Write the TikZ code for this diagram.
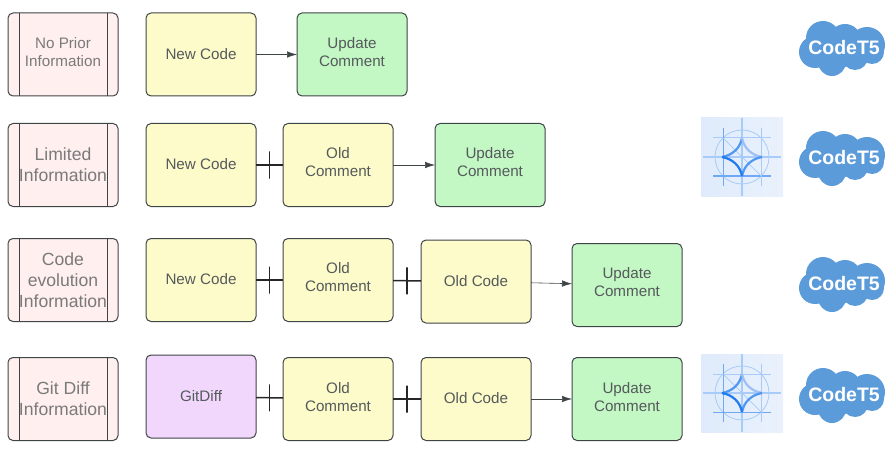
\documentclass[tikz,border=0pt]{standalone}
\usepackage{fontspec}
\setmainfont{Liberation Sans}
\usepackage{xcolor}
\usetikzlibrary{arrows.meta, positioning}

\definecolor{inkline}{HTML}{3F4447}
\definecolor{inktext}{HTML}{555A5C}
\definecolor{labeltext}{HTML}{7A7A7A}
\definecolor{labelfill}{HTML}{FFF0EF}
\definecolor{codefill}{HTML}{FDFBC9}
\definecolor{updatefill}{HTML}{C3F7C4}
\definecolor{difffill}{HTML}{F1D7FC}
\definecolor{cloudblue}{HTML}{5B9BD9}
\definecolor{sparkbacka}{HTML}{DFEBFB}
\definecolor{sparkbackb}{HTML}{EAF1FC}
\definecolor{sparkfaint}{HTML}{A9CBFA}
\definecolor{sparkmid}{HTML}{6FA8F6}
\definecolor{sparklight}{HTML}{9DC0F5}
\definecolor{sparkside}{HTML}{4F97F0}
\definecolor{sparkstrong}{HTML}{1F7BEE}

\begin{document}
\begin{tikzpicture}[
    x=1pt, y=-1pt,
    node distance=27pt,
    box/.style={rectangle, rounded corners=5pt, minimum width=110pt, minimum height=83pt, inner sep=1pt, outer sep=0pt, align=center, draw=inkline, line width=1pt, text=inktext, text depth=6pt, font=\fontsize{15.2}{18}\selectfont},
    codebox/.style={box, fill=codefill},
    updatebox/.style={box, fill=updatefill},
    diffbox/.style={box, fill=difffill},
    oneline/.style={text depth=2pt},
    labelbox/.style={box, fill=labelfill, text=labeltext, path picture={
        \draw[inkline, line width=1pt] ([xshift=11pt]path picture bounding box.north west) -- ([xshift=11pt]path picture bounding box.south west);
        \draw[inkline, line width=1pt] ([xshift=-11pt]path picture bounding box.north east) -- ([xshift=-11pt]path picture bounding box.south east);
    }},
    biglabel/.style={text depth=0pt, font=\fontsize{17.6}{21}\selectfont},
    arrow/.style={-{Latex[length=10pt, width=6.5pt]}, draw=inkline, line width=0.6pt},
    plus/.style={draw=black!85, line width=1.5pt},
    tick/.style={rectangle, draw=black!85, line width=1.5pt, minimum width=0pt, minimum height=27pt, inner sep=0pt, outer sep=0pt},
    cloudtext/.style={text=white, font=\fontsize{19.5}{19.5}\selectfont\bfseries}
]
\useasboundingbox (0,0) rectangle (893,449);

% Nodes
\node[labelbox] (label1) at (63,54.5) {No Prior\\Information};
\node[codebox, oneline] (new1) at (201,54.5) {New Code};
\node[updatebox, right=41pt of new1] (update1) {Update\\Comment};

\node[labelbox, biglabel] (label2) at (63,165) {Limited\\Information};
\node[codebox, oneline] (new2) at (201,165) {New Code};
\node[codebox, right=of new2] (old2) {Old\\Comment};
\node[updatebox, right=42pt of old2] (update2) {Update\\Comment};

\node[labelbox, biglabel] (label3) at (63,280) {Code\\evolution\\Information};
\node[codebox, oneline] (new3) at (201,280) {New Code};
\node[codebox, right=of new3] (old3) {Old\\Comment};
\node[codebox, oneline, right=28pt of old3, yshift=-1.5pt] (oldcode3) {Old Code};
\node[updatebox, right=41pt of oldcode3, yshift=-3.5pt] (update3) {Update\\Comment};

\node[labelbox, biglabel] (label4) at (63,399) {Git Diff\\Information};
\node[diffbox, oneline] (diff4) at (201,396.5) {GitDiff};
\node[codebox, text depth=4pt] (old4) at (338,399) {Old\\Comment};
\node[codebox, oneline, right=28pt of old4] (oldcode4) {Old Code};
\node[updatebox, text depth=4pt, right=41pt of oldcode4] (update4) {Update\\Comment};

% Arrows
\draw[arrow] (new1) -- (update1);
\draw[arrow] (old2) -- (update2);
\draw[arrow] (oldcode3) -- (update3);
\draw[arrow] (oldcode4) -- (update4);

% Plus signs
\draw[plus] (new2) -- (old2) node[midway, tick] (tick2) {};
\draw[plus] (new3) -- (old3) node[midway, tick] (tick3) {};
\draw[plus] (old3) -- (oldcode3) node[midway, tick] (tick3b) {};
\draw[plus] (diff4) -- (old4) node[midway, tick] (tick4) {};
\draw[plus] (old4) -- (oldcode4) node[midway, tick] (tick4b) {};

% Clouds
\foreach \name/\ypos in {one/49, two/159, three/285, four/396} {
    \begin{scope}[shift={(843,\ypos)}]
        \foreach \dx/\dy/\rad in {-20/-11/17, 2/-9/16, 24/-4/18, -28/3/16, -11/13/14, 12/8/13, 29/3/12, 0/0/18}
            \fill[cloudblue] (\dx,\dy) circle (\rad);
        \fill[cloudblue] (-20,-8) rectangle (28,10);
        \node[cloudtext] (text\name) at (1,-1.5) {CodeT5};
    \end{scope}
}

% Sparkle pictures
\foreach \cx/\cy in {742/157, 742/393} {
    \begin{scope}[shift={(\cx,\cy)}]
        \shade[left color=sparkbacka, right color=sparkbackb] (-41,-39) rectangle (41,39);
        \draw[sparkfaint, line width=0.8pt] (-27,0) arc[start angle=180, end angle=540, radius=27];
        \draw[sparkfaint, line width=1.1pt] (-39,0) -- (39,0);
        \draw[sparkfaint, line width=1.1pt] (0,-39) -- (0,39);
        \draw[sparkfaint, line width=1pt] (-29,-19) -- (29,-19);
        \draw[sparkmid, line width=1pt] (-29,19) -- (29,19);
        \draw[sparkmid, line width=1pt] (-19,-29) -- (-19,29);
        \draw[sparkfaint, line width=1pt] (19,-29) -- (19,29);
        \draw[sparkfaint, line width=0.7pt] (-19,-19) -- (19,19);
        \draw[sparkside, line width=2.2pt] (-20,0) .. controls (-9,-2) and (-2,-9) .. (0,-19);
        \draw[sparklight, line width=2.2pt] (0,-19) .. controls (2,-9) and (9,-2) .. (20,0);
        \draw[sparkside, line width=2.2pt] (20,0) .. controls (9,2) and (2,9) .. (0,19);
        \draw[sparkstrong, line width=2.2pt] (0,19) .. controls (-2,9) and (-9,2) .. (-20,0);
    \end{scope}
}

\end{tikzpicture}
\end{document}
